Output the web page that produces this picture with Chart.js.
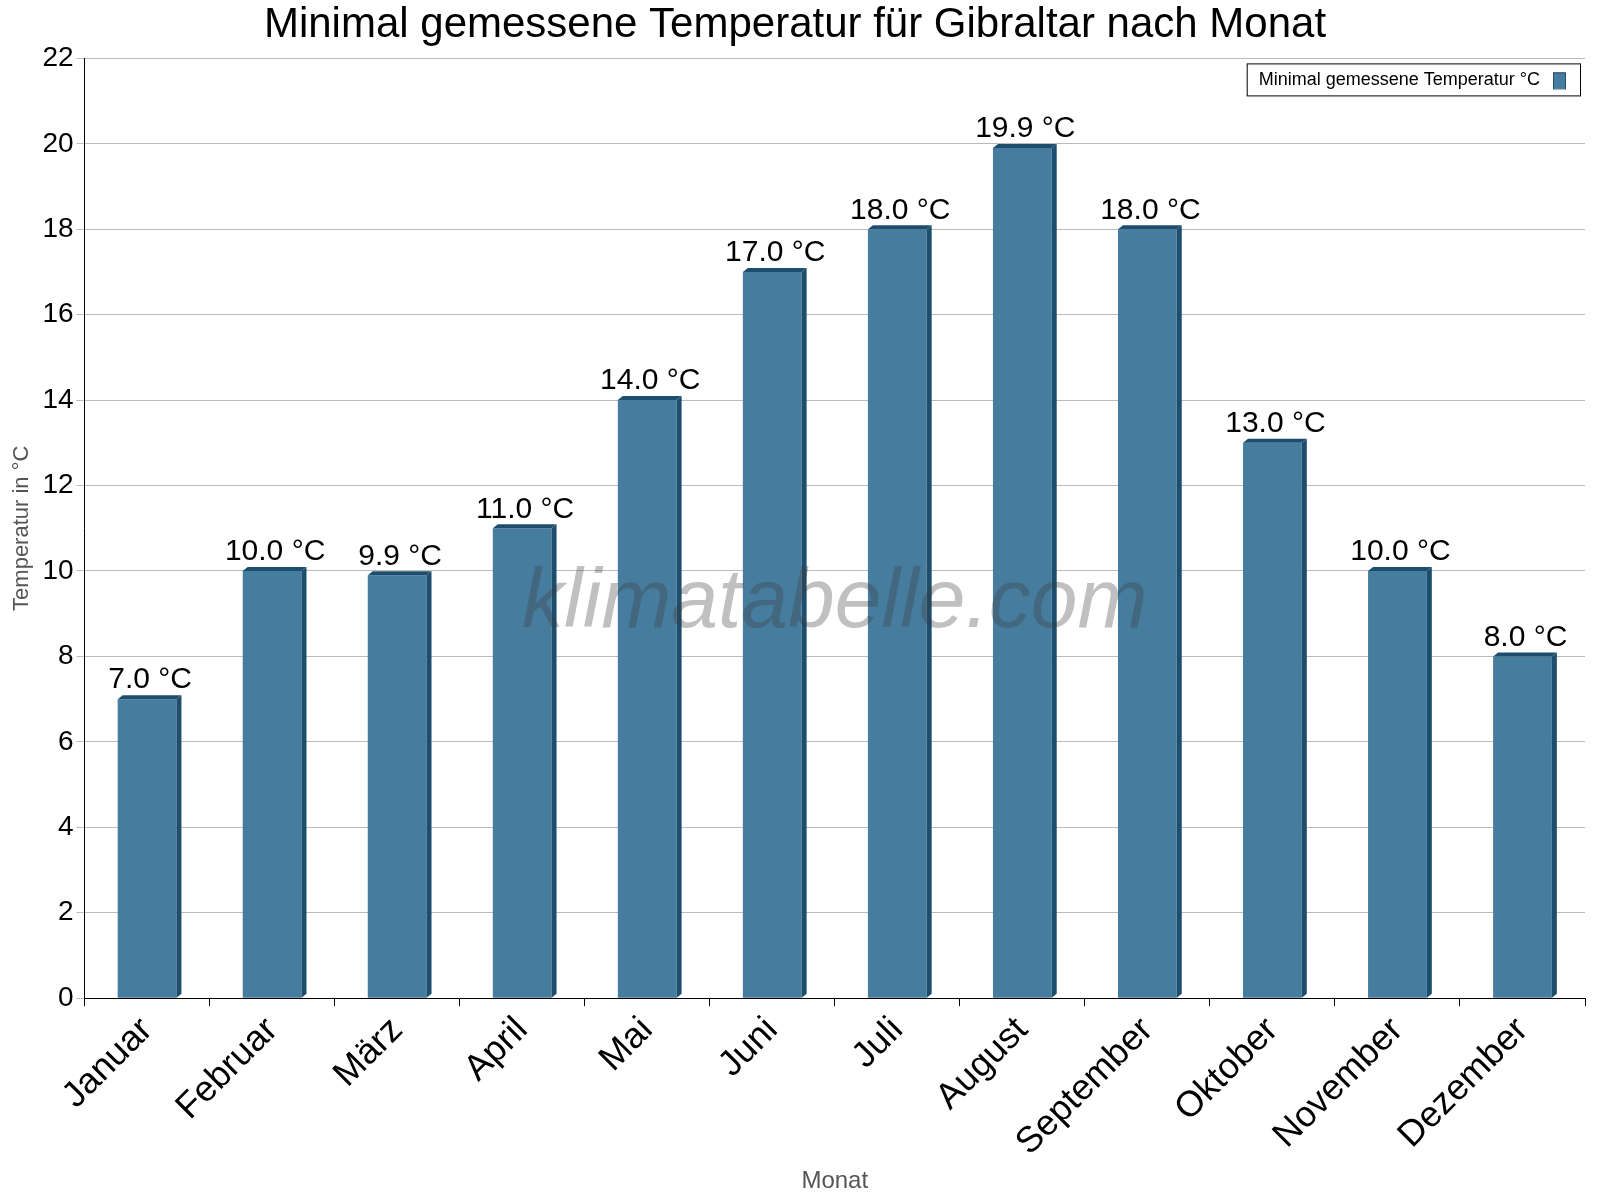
<!DOCTYPE html>
<html><head><meta charset="utf-8">
<script src="https://cdn.jsdelivr.net/npm/chart.js@4"></script>
<style>body{margin:0;background:#fff}#w{width:1600px;height:1200px}</style>
</head><body><div id="w"><canvas id="c" width="1600" height="1200"></canvas></div>
<script>
const months=["Januar","Februar","März","April","Mai","Juni","Juli","August","September","Oktober","November","Dezember"];
const minTemps=[7.0,10.0,9.9,11.0,14.0,17.0,18.0,19.9,18.0,13.0,10.0,8.0];
const seriesName="Minimal gemessene Temperatur °C";
const F="Arial, 'Liberation Sans', sans-serif";
const deco={id:'deco',
 afterDatasetsDraw(ch){const c=ch.ctx;const m=ch.getDatasetMeta(0);const a=ch.chartArea;c.save();
  m.data.forEach((b,i)=>{const w=b.width,x0=b.x-w/2,x1=b.x+w/2,y=b.y,bt=b.base;
   c.fillStyle="#1d4e6e";c.beginPath();c.moveTo(x1,y);c.lineTo(x1+5,y-4);c.lineTo(x1+5,bt-4);c.lineTo(x1,bt);c.closePath();c.fill();
   c.beginPath();c.moveTo(x0,y);c.lineTo(x0+5,y-4);c.lineTo(x1+5,y-4);c.lineTo(x1,y);c.closePath();c.fill();});
  c.font="italic 84px "+F;c.fillStyle="rgba(60,60,60,0.32)";c.textAlign="center";c.textBaseline="middle";
  c.fillText("klimatabelle.com",(a.left+a.right)/2,a.top+(a.bottom-a.top)*0.58);
  m.data.forEach((b,i)=>{c.fillStyle="#000";c.font="30px "+F;c.textAlign="center";c.textBaseline="bottom";
   c.fillText(minTemps[i].toFixed(1)+" °C",b.x+3,b.y-4);});
  c.font="18px "+F;const t=seriesName;const tw=c.measureText(t).width;
  const bw=tw+52,bx=a.right-5-bw,by=a.top+5;
  c.fillStyle="#fff";c.fillRect(bx,by,bw,32);c.strokeStyle="#000";c.lineWidth=1;c.strokeRect(bx+0.5,by+0.5,bw,32);
  c.fillStyle="#000";c.textAlign="left";c.textBaseline="middle";c.fillText(t,bx+12,by+17);
  c.fillStyle="#467c9e";c.fillRect(bx+tw+25,by+9,12,16);c.strokeStyle="#1d4e6e";c.strokeRect(bx+tw+25.5,by+9.5,12,16);
  c.restore();}};
new Chart(document.getElementById('c'),{type:'bar',
 data:{labels:months,datasets:[{label:seriesName,data:minTemps,backgroundColor:"#467c9e",barPercentage:0.47,categoryPercentage:1}]},
 options:{responsive:false,animation:false,devicePixelRatio:1,
  layout:{padding:{left:5,right:15,top:0,bottom:0}},
  plugins:{legend:{display:false},tooltip:{enabled:false},
   title:{display:true,text:"Minimal gemessene Temperatur für Gibraltar nach Monat",font:{size:42,family:F,weight:'normal'},color:"#000",padding:{top:0,bottom:8}}},
  scales:{
   x:{grid:{display:true,drawOnChartArea:false,offset:true,color:"#000",tickLength:8},border:{color:"#000"},
    ticks:{color:"#000",font:{size:36,family:F},maxRotation:45,minRotation:45},
    title:{display:true,text:"Monat",color:"#555",font:{size:24,family:F},padding:{top:0}}},
   y:{min:0,max:22,ticks:{stepSize:2,color:"#000",font:{size:28,family:F}},
    grid:{color:"#bbb",tickLength:8,lineWidth:1},border:{color:"#000"},
    title:{display:true,text:"Temperatur in °C",color:"#555",font:{size:22,family:F}}}}},
 plugins:[deco]});
</script></body></html>
